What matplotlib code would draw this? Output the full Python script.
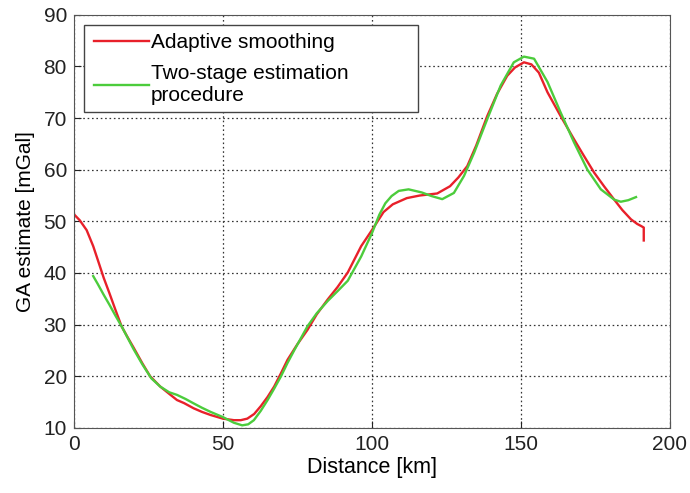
import matplotlib.pyplot as plt
from matplotlib.patches import Rectangle

plt.rcParams['font.family'] = ['Liberation Sans', 'DejaVu Sans']

# Adaptive smoothing (red)
dist_red = [0, 2, 4.3, 6.5, 8, 10, 12, 14, 16, 18, 20, 23, 25.6, 29, 32, 34.6, 37, 40.2, 43, 45.9, 50,
            53.7, 56, 58.2, 60.5, 62.7, 65, 67.2, 69.5, 71.7, 75, 78.4, 81.5, 85.2, 88.5, 91.9, 96.4,
            100, 103.9, 107, 111.7, 116, 121.9, 126.2, 129, 132, 135, 138.7, 142, 145.4, 148, 151,
            153.5, 156, 158.9, 163.3, 167.8, 171, 174.6, 178, 181.3, 184, 186.9, 189, 190.3, 191.2, 191.2]
ga_red = [51.4, 50.2, 48.3, 45.2, 42.6, 39.1, 36, 32.8, 29.7, 27.6, 25.6, 22.5, 20, 18, 16.6, 15.4,
          14.8, 13.8, 13.1, 12.5, 11.8, 11.5, 11.5, 11.8, 12.7, 14.2, 16, 18, 20.6, 23.2, 26.2, 29,
          32, 34.9, 37.3, 40.1, 45.2, 48.3, 51.8, 53.3, 54.5, 55, 55.4, 56.8, 58.5, 60.7, 64.7, 70.4,
          74.7, 78.2, 79.8, 80.8, 80.4, 78.8, 75, 70.4, 65.9, 62.8, 59.4, 56.7, 54.2, 52.2, 50.4,
          49.5, 49.1, 48.8, 46.3]

# Two-stage estimation procedure (green)
dist_green = [6.5, 8, 10, 12, 14, 16, 18, 20, 23, 26, 29, 32, 34.6, 37.5, 40.2, 43, 45.9, 50, 53.7,
              56.5, 58.5, 60.4, 62.7, 65, 67.2, 69.5, 71.7, 74, 78.4, 81.5, 85.2, 88.5, 91.9, 96.4,
              100, 102.5, 104.5, 106.6, 109, 112.3, 116.7, 120, 123.6, 127.5, 130.9, 134.3, 138.7,
              143.2, 147.6, 151, 154.4, 158.9, 163.3, 167.8, 172.3, 176.8, 181.3, 183.5, 186, 188.6]
ga_green = [39.4, 37.9, 35.8, 33.8, 31.7, 29.7, 27.5, 25.3, 22.3, 19.6, 18, 16.9, 16.4, 15.6, 14.75,
            13.9, 13.1, 12.1, 11, 10.5, 10.7, 11.5, 13.3, 15.4, 17.6, 20, 22.6, 25.1, 29.7, 32.2,
            34.6, 36.5, 38.5, 43.2, 47.7, 51.3, 53.5, 54.9, 55.9, 56.2, 55.6, 54.9, 54.3, 55.5, 58.8,
            63.3, 69.8, 76.3, 80.8, 81.9, 81.5, 77, 71.1, 65.3, 60, 56.2, 54.2, 53.8, 54.1, 54.7]

x_ticks = [0, 50, 100, 150, 200]
y_ticks = [10, 20, 30, 40, 50, 60, 70, 80, 90]

fig = plt.figure(figsize=(6.9, 4.93), dpi=100)
ax = fig.add_axes([0.107, 0.132, 0.864, 0.838])

ax.plot(dist_red, ga_red, color='#e8202a', linewidth=1.7, label='Adaptive smoothing')
ax.plot(dist_green, ga_green, color='#4ccc3c', linewidth=1.7,
        label='Two-stage estimation\nprocedure')

ax.set_xlim(0, 200)
ax.set_ylim(10, 90)
ax.set_xticks(x_ticks)
ax.set_yticks(y_ticks)
ax.tick_params(direction='in', labelsize=15, length=5, pad=5, colors='#222222')
ax.grid(True, color='#333333', linestyle=(0, (1.3, 2.2)), linewidth=0.9)
for s in ax.spines.values():
    s.set_color('#555555')

ax.set_xlabel('Distance [km]', fontsize=15.5, labelpad=2)
ax.set_ylabel('GA estimate [mGal]', fontsize=15, labelpad=6)

# MATLAB-style legend box, wider than its text
box = Rectangle((0.0168, 0.765), 0.560, 0.211, transform=ax.transAxes,
                facecolor='white', edgecolor='#444444', linewidth=1.0, zorder=4)
ax.add_patch(box)
leg = ax.legend(loc='upper left', bbox_to_anchor=(0.033, 0.955), fontsize=15,
                frameon=False, borderpad=0, handlelength=2.65, handletextpad=0.1,
                labelspacing=0.55, borderaxespad=0)
leg.set_zorder(5)

fig.savefig('out.png', dpi=100)
